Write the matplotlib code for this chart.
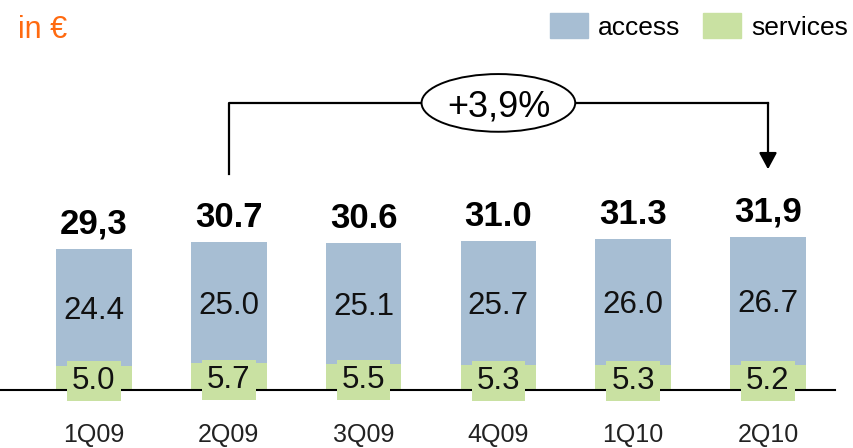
import matplotlib
matplotlib.use("Agg")
import matplotlib.pyplot as plt
from matplotlib.patches import Ellipse, Patch

plt.rcParams['font.family'] = ['Liberation Sans', 'DejaVu Sans']

# data
quarters = ["1Q09", "2Q09", "3Q09", "4Q09", "1Q10", "2Q10"]
access = [24.4, 25.0, 25.1, 25.7, 26.0, 26.7]
services = [5.0, 5.7, 5.5, 5.3, 5.3, 5.2]
total_labels = ["29,3", "30.7", "30.6", "31.0", "31.3", "31,9"]
access_labels = ["24.4", "25.0", "25.1", "25.7", "26.0", "26.7"]
services_labels = ["5.0", "5.7", "5.5", "5.3", "5.3", "5.2"]
growth_label = "+3,9%"

BLUE = "#a7bed3"
GREEN = "#c9e1a2"
ORANGE = "#ff6a10"

fig = plt.figure(figsize=(8.54, 4.48), dpi=100)
ax = fig.add_axes([0, 58 / 448, 835 / 854, 390 / 448])

x = list(range(len(quarters)))
totals = [a + s for a, s in zip(access, services)]

ax.bar(x, services, width=0.56, color=GREEN, zorder=2)
ax.bar(x, access, bottom=services, width=0.56, color=BLUE, zorder=2)

for i in x:
    ax.text(i, services[i] + access[i] / 2, access_labels[i], ha="center",
            va="center_baseline", fontsize=22.5, color="#111111", zorder=4)
    ax.text(i, services[i] / 2, services_labels[i], ha="center",
            va="center_baseline", fontsize=22.5, color="#111111", zorder=4,
            bbox=dict(boxstyle="square,pad=0.16", fc=GREEN, ec="none"))
    ax.annotate(total_labels[i], (i, totals[i]), xytext=(0, 11),
                textcoords="offset points", ha="center", va="baseline",
                fontsize=25, fontweight="bold")

# baseline
ax.axhline(0, color="black", lw=1.5, zorder=3, clip_on=False)

# growth bracket 2Q09 -> 2Q10
y_br = 59.7
ax.plot([1, 1, 5], [44.9, y_br, y_br], color="black", lw=1.6, zorder=3)
ax.annotate("", xy=(5, 45.9), xytext=(5, y_br),
            arrowprops=dict(arrowstyle="-|>,head_length=0.5,head_width=0.27",
                            mutation_scale=20, color="black", lw=1.6,
                            shrinkA=0, shrinkB=0))
ax.add_patch(Ellipse((3, y_br), width=1.14, height=12.0, fc="white",
                     ec="black", lw=1.4, zorder=5))
ax.text(3, y_br, growth_label, ha="center", va="center_baseline",
        fontsize=26, zorder=6)

ax.set_xlim(-0.697, 5.497)
ax.set_ylim(0, 81.1)
ax.set_xticks(x)
ax.set_xticklabels(quarters, fontsize=18, color="#222222")
ax.tick_params(axis="x", length=0, pad=24)
ax.set_yticks([])
for s in ax.spines.values():
    s.set_visible(False)

fig.text(18 / 854, 1 - 26 / 448, "in €", color=ORANGE, fontsize=22,
         ha="left", va="center_baseline")

handles = [Patch(color=BLUE, label="access"), Patch(color=GREEN, label="services")]
fig.legend(handles=handles, loc="upper left", bbox_to_anchor=(550 / 854, 1 - 13 / 448),
           ncol=2, frameon=False, fontsize=19, handlelength=1.44, handleheight=1.1,
           handletextpad=0.38, columnspacing=0.85, borderpad=0, borderaxespad=0)

fig.savefig("out.png", dpi=100)
